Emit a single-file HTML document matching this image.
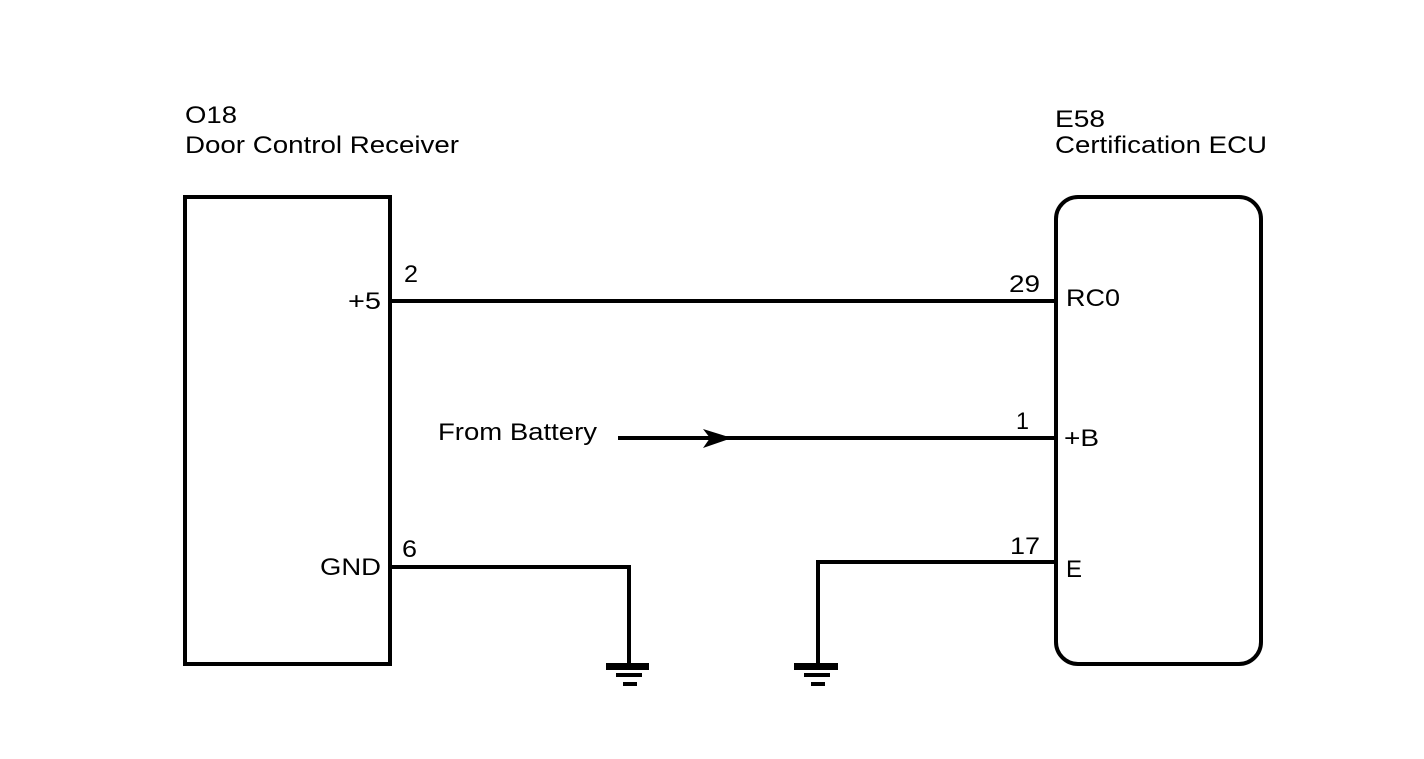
<!DOCTYPE html>
<html><head><style>body{margin:0;background:#fff}svg{display:block}text{font-family:"Liberation Sans",sans-serif;font-size:24px;fill:#000}</style></head>
<body>
<svg width="1424" height="759" xmlns="http://www.w3.org/2000/svg">
<text x="185" y="123" textLength="52" lengthAdjust="spacingAndGlyphs">O18</text>
<text x="185" y="153" textLength="274" lengthAdjust="spacingAndGlyphs">Door Control Receiver</text>
<text x="1055" y="127" textLength="50" lengthAdjust="spacingAndGlyphs">E58</text>
<text x="1055" y="153" textLength="212" lengthAdjust="spacingAndGlyphs">Certification ECU</text>
<rect x="185" y="197" width="205" height="467" fill="none" stroke="#000" stroke-width="4"/>
<rect x="1056" y="197" width="205" height="467" rx="22" fill="none" stroke="#000" stroke-width="4"/>
<g stroke="#000" stroke-width="4" fill="none">
<line x1="390" y1="301" x2="1056" y2="301"/>
<line x1="618" y1="438" x2="1056" y2="438"/>
<polyline points="390,567 629,567 629,664"/>
<polyline points="1056,562 818,562 818,663"/>
</g>
<polygon points="703,429 732,438 703,448 710,438" fill="#000"/>
<g fill="#000">
<rect x="606" y="663" width="43" height="7"/><rect x="616" y="673" width="26" height="4"/><rect x="623" y="682" width="14" height="4"/>
<rect x="794" y="663" width="44" height="7"/><rect x="804" y="673" width="26" height="4"/><rect x="811" y="682" width="14" height="4"/>
</g>
<text x="404" y="282" textLength="14" lengthAdjust="spacingAndGlyphs">2</text>
<text x="348" y="309" textLength="33" lengthAdjust="spacingAndGlyphs">+5</text>
<text x="402" y="557" textLength="15" lengthAdjust="spacingAndGlyphs">6</text>
<text x="320" y="575" textLength="61" lengthAdjust="spacingAndGlyphs">GND</text>
<text x="1009" y="292" textLength="31" lengthAdjust="spacingAndGlyphs">29</text>
<text x="1066" y="306" textLength="54" lengthAdjust="spacingAndGlyphs">RC0</text>
<text x="1016" y="429" textLength="13" lengthAdjust="spacingAndGlyphs">1</text>
<text x="1064" y="446" textLength="35" lengthAdjust="spacingAndGlyphs">+B</text>
<text x="1010" y="554" textLength="30" lengthAdjust="spacingAndGlyphs">17</text>
<text x="1066" y="577" textLength="16" lengthAdjust="spacingAndGlyphs">E</text>
<text x="438" y="440" textLength="159" lengthAdjust="spacingAndGlyphs">From Battery</text>
</svg>
</body></html>
